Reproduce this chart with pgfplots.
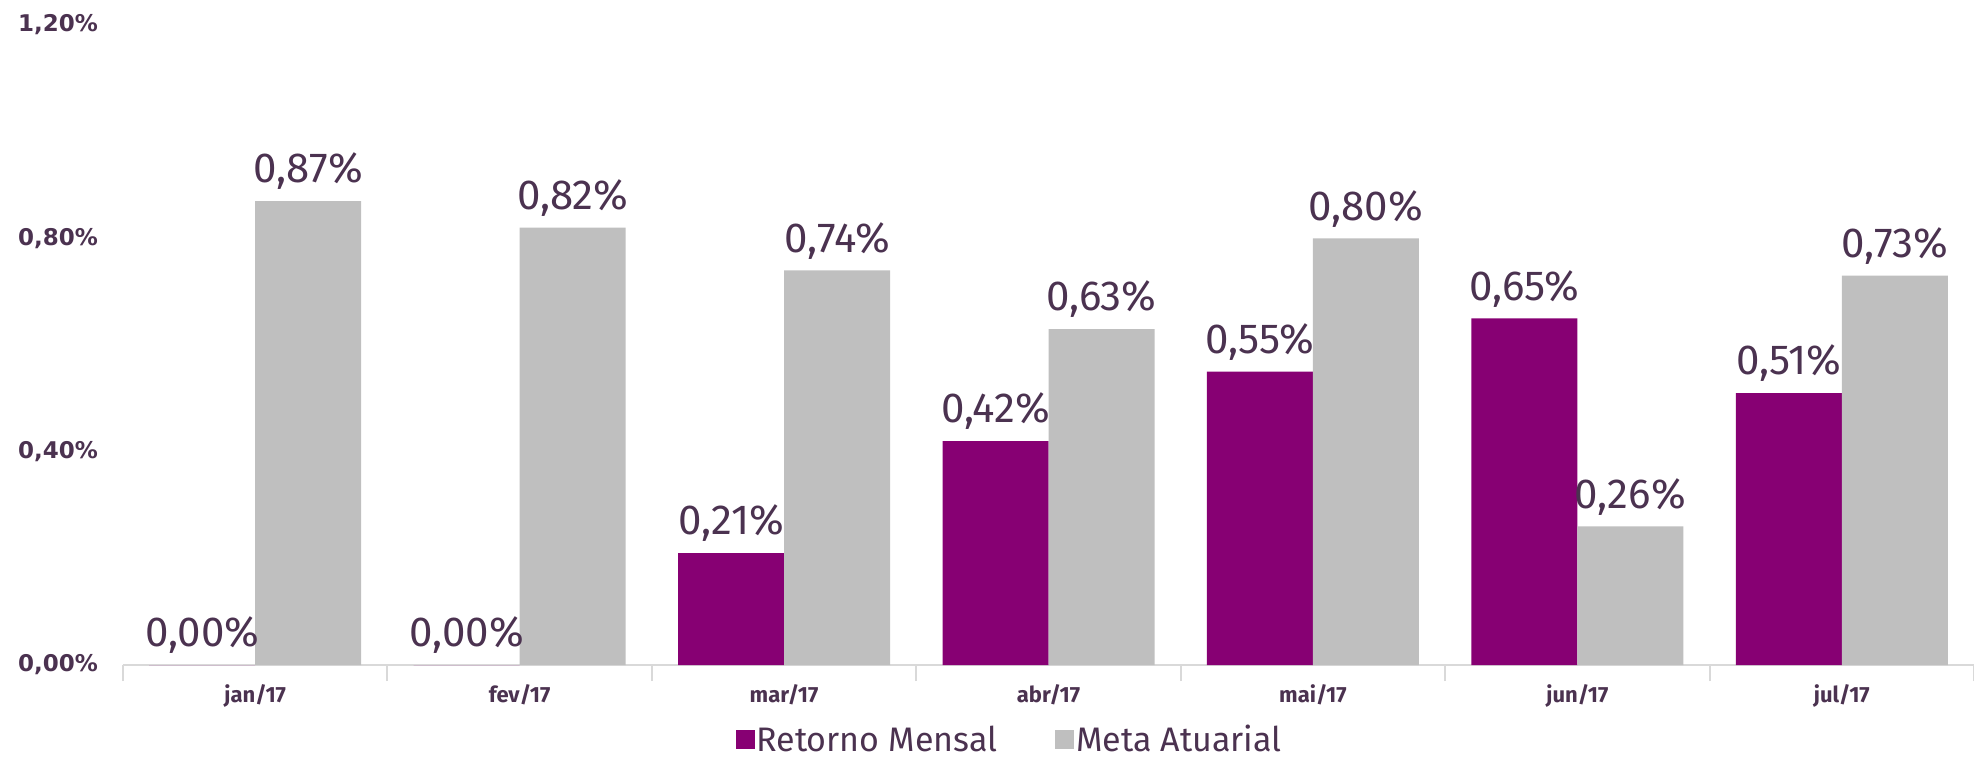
\documentclass[border=0pt]{standalone}
\usepackage{pgfplots}
\pgfplotsset{compat=1.18}
\usepackage{fontspec}
\setmainfont{Fira Sans}
\newfontfamily\tickfont{DejaVu Sans}
\definecolor{purp}{RGB}{135,0,115}
\definecolor{grayb}{RGB}{191,191,191}
\definecolor{txt}{RGB}{75,50,80}
\definecolor{axl}{RGB}{217,217,217}
\begin{document}
\begin{tikzpicture}
\path[use as bounding box] (-61.5pt,-48pt) rectangle (925.5pt,332.5pt);
\begin{axis}[
  at={(0,0)}, anchor=south west,
  scale only axis,
  width=925.5pt, height=320pt,
  ybar=0pt, bar width=53pt,
  xmin=-0.5, xmax=6.5, ymin=0, ymax=1.2,
  xtick={0,1,2,3,4,5,6},
  xticklabels={jan/17,fev/17,mar/17,abr/17,mai/17,jun/17,jul/17},
  minor xtick={-0.5,0.5,1.5,2.5,3.5,4.5,5.5,6.5},
  major tick length=0pt,
  minor tick length=8pt,
  tick align=outside,
  xtick pos=bottom,
  ytick pos=left,
  ytick={0,0.4,0.8,1.2},
  yticklabels={{0,00\%},{0,40\%},{0,80\%},{1,20\%}},
  ytick style={draw=none},
  minor tick style={axl, line width=1pt},
  axis x line*=bottom,
  axis y line*=left,
  x axis line style={axl, line width=1.2pt, -},
  y axis line style={draw=none},
  yticklabel style={font=\tickfont\bfseries\fontsize{11.5}{12}\selectfont, text=txt, anchor=east, xshift=-9pt},
  xticklabel style={font=\fontsize{11}{13}\selectfont\bfseries, text=txt, yshift=-6pt},
  nodes near coords={\pgfmathprintnumber{\pgfplotspointmeta}\%},
  /pgf/number format/.cd, fixed, fixed zerofill, precision=2, use comma, assume math mode=true,
  /pgfplots/.cd,
  every node near coord/.append style={font=\fontsize{21}{23}\selectfont, text=txt, yshift=2pt},
  legend style={at={(0.479,-0.117)}, anchor=center, legend columns=2, draw=none,
    font=\fontsize{17}{19}\selectfont, text=txt, inner sep=0pt,
    nodes={inner sep=1pt},
    /tikz/every even column/.append style={column sep=28pt}},
  legend image code/.code={\fill[#1] (0pt,-4.75pt) rectangle (9.5pt,4.75pt);},
]
\addplot[fill=purp, draw=none] coordinates {(0,0) (1,0) (2,0.21) (3,0.42) (4,0.55) (5,0.65) (6,0.51)};
\addplot[fill=grayb, draw=none] coordinates {(0,0.87) (1,0.82) (2,0.74) (3,0.63) (4,0.80) (5,0.26) (6,0.73)};
\legend{Retorno Mensal, Meta Atuarial}
\end{axis}
\end{tikzpicture}
\end{document}
